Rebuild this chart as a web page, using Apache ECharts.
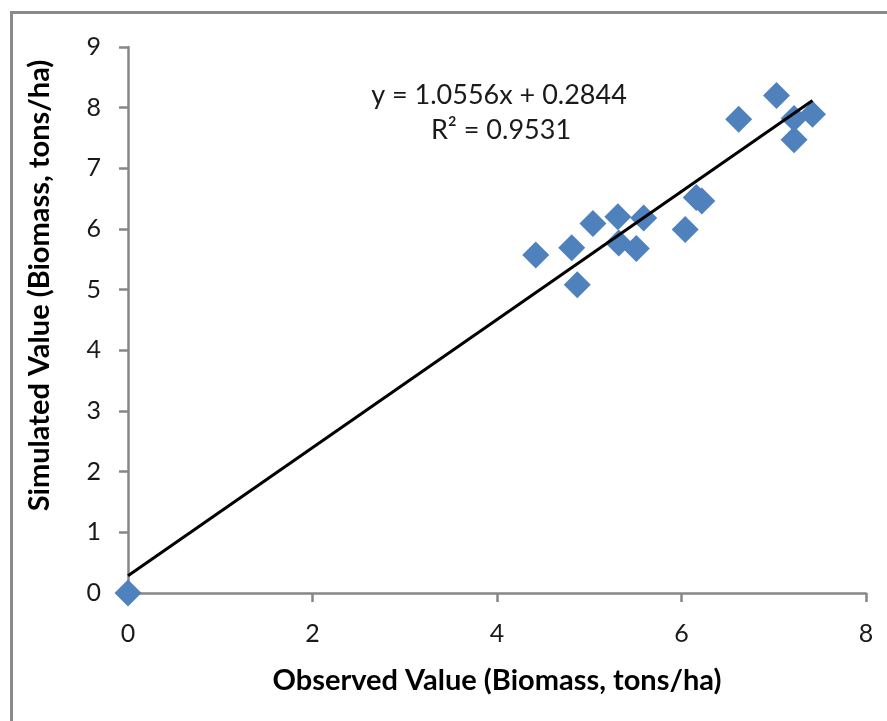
<!DOCTYPE html>
<html>
<head>
<meta charset="utf-8">
<script src="https://cdn.jsdelivr.net/npm/echarts@6/dist/echarts.min.js"></script>
<style>
html,body{margin:0;padding:0;background:#fff;}
#chart{width:887px;height:721px;}
</style>
</head>
<body>
<div id="chart"></div>
<script>
const observed = [0, 4.42, 4.81, 4.87, 5.04, 5.31, 5.32, 5.51, 5.59, 6.04, 6.16, 6.22, 6.62, 7.03, 7.22, 7.22, 7.42];
const simulated = [0, 5.57, 5.69, 5.08, 6.09, 6.20, 5.77, 5.68, 6.18, 5.99, 6.52, 6.46, 7.81, 8.20, 7.82, 7.47, 7.89];
const slope = 1.0556;
const intercept = 0.2844;
const rSquared = 0.9531;
const xTicks = [0, 2, 4, 6, 8];
const yTicks = [0, 1, 2, 3, 4, 5, 6, 7, 8, 9];

const points = observed.map((x, i) => [x, simulated[i]]);
const xMaxObs = Math.max(...observed);
const xMinObs = Math.min(...observed);
const trend = [[xMinObs, slope * xMinObs + intercept], [xMaxObs, slope * xMaxObs + intercept]];

const FONT = 'Lato';
const chart = echarts.init(document.getElementById('chart'));
chart.setOption({
  backgroundColor: '#fff',
  animation: false,
  grid: {left: 128, right: 21, top: 47, bottom: 128},
  xAxis: {
    type: 'value', min: xTicks[0], max: xTicks[xTicks.length - 1], interval: xTicks[1] - xTicks[0],
    name: 'Observed Value (Biomass, tons/ha)',
    nameLocation: 'middle', nameGap: 73,
    nameTextStyle: {fontFamily: FONT, fontWeight: 'bold', fontSize: 29, color: '#000'},
    axisLine: {show: true, lineStyle: {color: '#878787', width: 2.5}},
    axisTick: {show: true, inside: false, length: 9, lineStyle: {color: '#878787', width: 2.5}},
    axisLabel: {fontFamily: FONT, fontSize: 25, color: '#1a1a1a', margin: 28},
    splitLine: {show: false}
  },
  yAxis: {
    type: 'value', min: yTicks[0], max: yTicks[yTicks.length - 1], interval: yTicks[1] - yTicks[0],
    name: 'Simulated Value (Biomass, tons/ha)',
    nameLocation: 'middle', nameGap: 74,
    nameTextStyle: {fontFamily: FONT, fontWeight: 'bold', fontSize: 29, color: '#000', padding: [0, 0, 0, 69]},
    axisLine: {show: true, lineStyle: {color: '#878787', width: 2.5}},
    axisTick: {show: true, inside: false, length: 9, lineStyle: {color: '#878787', width: 2.5}},
    axisLabel: {fontFamily: FONT, fontSize: 25, color: '#1a1a1a', margin: 27},
    splitLine: {show: false}
  },
  series: [
    {
      type: 'scatter', data: points, symbol: 'diamond', symbolSize: 27,
      itemStyle: {color: '#4F81BD', opacity: 1}, z: 3
    },
    {
      type: 'line', data: trend, showSymbol: false, symbol: 'none',
      lineStyle: {color: '#000', width: 3}, z: 4, silent: true
    }
  ],
  graphic: [
    {type: 'rect', left: 9, top: 10, z: -1, shape: {width: 920, height: 760}, style: {fill: 'none', stroke: '#8a8a8a', lineWidth: 3}},
    {type: 'text', x: 499, y: 95, style: {text: 'y = ' + slope.toFixed(4) + 'x + ' + intercept.toFixed(4), fontFamily: FONT, fontSize: 27, fill: '#1a1a1a', align: 'center', verticalAlign: 'middle'}},
    {type: 'text', x: 501, y: 130, style: {text: 'R² = ' + rSquared.toFixed(4), fontFamily: FONT, fontSize: 27, fill: '#1a1a1a', align: 'center', verticalAlign: 'middle'}}
  ]
});
</script>
</body>
</html>
